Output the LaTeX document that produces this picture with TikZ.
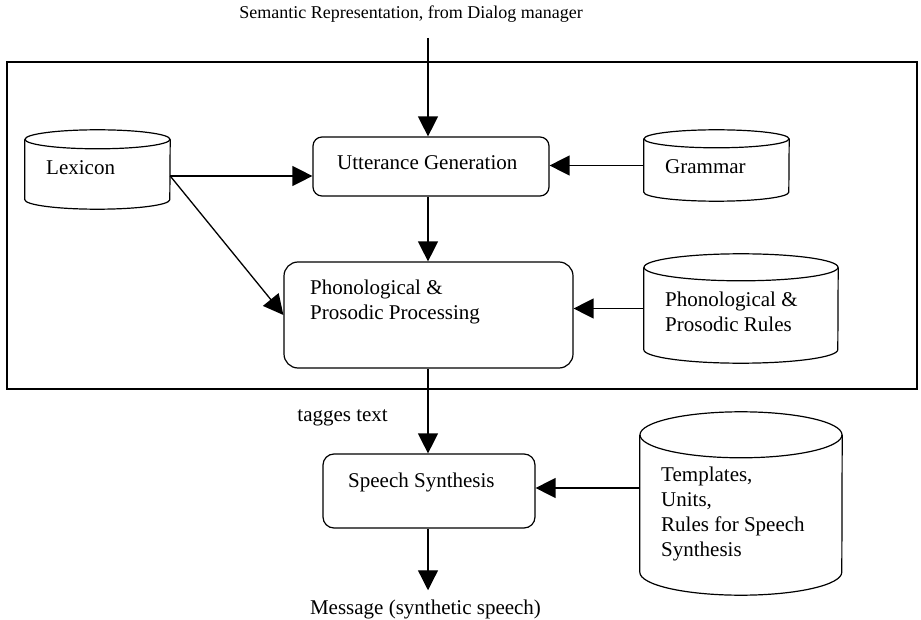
\documentclass[tikz,border=0pt]{standalone}
\usepackage{fontspec}
\setmainfont{Liberation Serif}
\usetikzlibrary{arrows.meta,positioning,calc}

% database drum drawn round an empty node: node, x radius, y radius
\newcommand{\drum}[3]{%
  \draw[drumline] ([yshift=-#3pt]#1.north) ellipse [x radius=#2pt, y radius=#3pt];
  \draw[drumline] ([yshift=-#3pt]#1.north west) -- ([yshift=#3pt]#1.south west)
    arc[start angle=180, end angle=360, x radius=#2pt, y radius=#3pt]
    -- ([yshift=-#3pt]#1.north east);
}

\begin{document}
\begin{tikzpicture}[x=1pt, y=-1pt,
  box/.style={draw, rounded corners=9pt, line width=1.2pt},
  drumline/.style={line width=1.2pt},
  drumarea/.style={inner sep=0pt},
  txt/.style={inner sep=0pt, align=left, font=\fontsize{21}{25}\selectfont},
  small/.style={inner sep=0pt, font=\fontsize{18}{21}\selectfont},
  arr/.style={-{Triangle[length=20pt, width=20pt]}, line width=1.3pt},
]
\useasboundingbox (0,0) rectangle (921,620);
\draw[line width=1.6pt] (7,62) rectangle (917,389);

% processing steps
\node[box, minimum width=236pt, minimum height=59pt] (utt) at (431,166.5) {};
\node[box, rounded corners=14pt, minimum width=289pt, minimum height=106pt] (phon) at (428.5,315) {};
\node[box, rounded corners=11pt, minimum width=212pt, minimum height=74pt] (synth) at (429,491) {};

% knowledge sources
\node[drumarea, minimum width=145pt, minimum height=79pt] (lex) at (97.5,169.5) {};
\node[drumarea, minimum width=145pt, minimum height=71pt] (gram) at (716.5,165.5) {};
\node[drumarea, minimum width=194pt, minimum height=109pt] (rules) at (741,308.5) {};
\node[drumarea, minimum width=202pt, minimum height=183pt] (tmpl) at (741,503.5) {};
\drum{lex}{72.5}{9.5}
\drum{gram}{72.5}{9}
\drum{rules}{97}{13.5}
\drum{tmpl}{101}{23}

% texts
\node[txt, anchor=west] (lex-t) at (46,168) {Lexicon};
\node[txt, anchor=west] (gram-t) at (665,167) {Grammar};
\node[txt, anchor=west] (rules-t) at (665,312) {Phonological \&\\Prosodic Rules};
\node[txt, anchor=west] (tmpl-t) at (661,513.5) {Templates,\\Units,\\Rules for Speech\\Synthesis};
\node[txt, anchor=west] (utt-t) at (337,163) {Utterance Generation};
\node[txt, anchor=west] (phon-t) at (310,302) {Phonological \&\\Prosodic Processing};
\node[txt, anchor=west] (synth-t) at (348,482) {Speech Synthesis};

\node[small] (sem) at (411,14) {Semantic Representation, from Dialog manager};
\node[txt, anchor=east] (tag) at (388,418) {tagges text};
\node[txt] (msg) at (425.5,609) {Message (synthetic speech)};

\coordinate (semtop) at (428,38);
\coordinate (lexout) at ([yshift=-6.5pt]lex.east);
\coordinate (tmplout) at ([yshift=3pt]synth.east -| tmpl.west);

% connectors
\draw[arr] (semtop) -- (semtop |- utt.north);
\draw[arr] (lexout) -- (lexout -| utt.west);
\draw[arr] (lexout) -- (phon.west);
\draw[arr] (gram.west) -- (gram.west -| utt.east);
\draw[arr] (semtop |- utt.south) -- (semtop |- phon.north);
\draw[arr] (rules.west) -- (rules.west -| phon.east);
\draw[arr] (semtop |- phon.south) -- (semtop |- synth.north);
\draw[arr] (tmplout) -- (tmplout -| synth.east);
\draw[arr] (semtop |- synth.south) -- ([yshift=9pt]semtop |- msg.north);
\end{tikzpicture}
\end{document}
